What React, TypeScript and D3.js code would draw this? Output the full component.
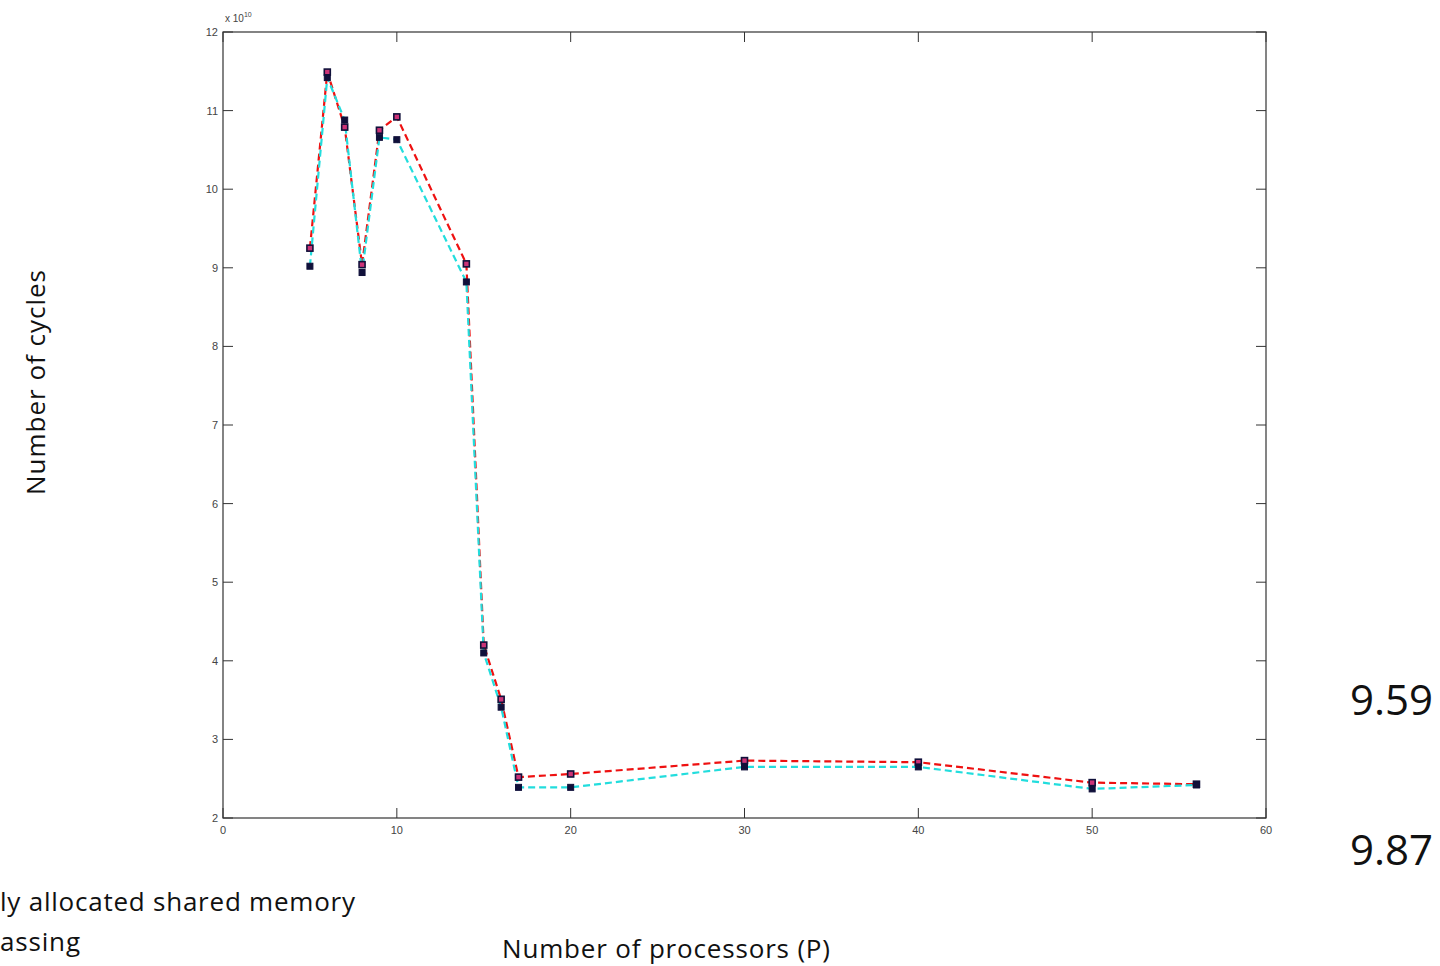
import React, { useEffect, useRef } from 'react';
import * as d3 from 'd3';

const procs = [5, 6, 7, 8, 9, 10, 14, 15, 16, 17, 20, 30, 40, 50, 56];
const sharedCycles = [9.25, 11.49, 10.79, 9.04, 10.75, 10.92, 9.05, 4.2, 3.51, 2.52, 2.56, 2.73, 2.71, 2.45, 2.43];
const passingCycles = [9.02, 11.42, 10.88, 8.94, 10.66, 10.63, 8.82, 4.1, 3.41, 2.39, 2.39, 2.65, 2.65, 2.37, 2.42];
const xTicks = [0, 10, 20, 30, 40, 50, 60];
const yTicks = [2, 3, 4, 5, 6, 7, 8, 9, 10, 11, 12];

const W = 1440;
const H = 966;
const margin = { left: 223, right: 174, top: 32, bottom: 148 };

export default function App() {
  const ref = useRef<SVGSVGElement>(null);

  useEffect(() => {
    const svg = d3.select(ref.current);
    svg.selectAll('*').remove();
    const iw = W - margin.left - margin.right;
    const ih = H - margin.top - margin.bottom;

    const x = d3.scaleLinear().domain([0, 60]).range([0, iw]);
    const y = d3.scaleLinear().domain([2, 12]).range([ih, 0]);

    const g = svg.append('g').attr('transform', 'translate(' + margin.left + ',' + margin.top + ')');

    // frame box
    g.append('rect')
      .attr('width', iw).attr('height', ih)
      .attr('fill', 'none').attr('stroke', '#333').attr('stroke-width', 1.2);

    // ticks inside on all sides
    const tl = 10;
    xTicks.forEach(t => {
      g.append('line').attr('x1', x(t)).attr('x2', x(t)).attr('y1', ih).attr('y2', ih - tl).attr('stroke', '#333');
      g.append('line').attr('x1', x(t)).attr('x2', x(t)).attr('y1', 0).attr('y2', tl).attr('stroke', '#333');
      g.append('text').attr('x', x(t)).attr('y', ih + 16)
        .attr('text-anchor', 'middle').attr('font-size', 11).attr('fill', '#444')
        .attr('font-family', 'Liberation Sans, Arial, sans-serif').text(t);
    });
    yTicks.forEach(t => {
      g.append('line').attr('x1', 0).attr('x2', tl).attr('y1', y(t)).attr('y2', y(t)).attr('stroke', '#333');
      g.append('line').attr('x1', iw).attr('x2', iw - tl).attr('y1', y(t)).attr('y2', y(t)).attr('stroke', '#333');
      g.append('text').attr('x', -5).attr('y', y(t) + 4)
        .attr('text-anchor', 'end').attr('font-size', 11).attr('fill', '#444')
        .attr('font-family', 'Liberation Sans, Arial, sans-serif').text(t);
    });

    // exponent
    const ex = g.append('text').attr('x', 2).attr('y', -10)
      .attr('font-size', 10).attr('fill', '#444').attr('font-family', 'Liberation Sans, Arial, sans-serif');
    ex.append('tspan').text('x 10');
    ex.append('tspan').attr('dy', -5).attr('font-size', 7).text('10');

    const line = (vals: number[]) => d3.line<number>()
      .x((d, i) => x(procs[i]))
      .y(d => y(d))(vals);

    g.append('path').attr('d', line(sharedCycles)).attr('fill', 'none')
      .attr('stroke', '#ee1111').attr('stroke-width', 2.2).attr('stroke-dasharray', '7,4');
    g.append('path').attr('d', line(passingCycles)).attr('fill', 'none')
      .attr('stroke', '#22dddd').attr('stroke-width', 2.2).attr('stroke-dasharray', '7,4');

    g.selectAll('.m1').data(sharedCycles).enter().append('rect')
      .attr('x', (d, i) => x(procs[i]) - 3).attr('y', d => y(d) - 3)
      .attr('width', 6).attr('height', 6)
      .attr('fill', '#cc3377').attr('stroke', '#10103a').attr('stroke-width', 1.6);
    g.selectAll('.m2').data(passingCycles).enter().append('rect')
      .attr('x', (d, i) => x(procs[i]) - 3).attr('y', d => y(d) - 3)
      .attr('width', 6).attr('height', 6)
      .attr('fill', '#10103a').attr('stroke', '#10103a').attr('stroke-width', 1);

    const font = 'Open Sans, Noto Sans, sans-serif';
    svg.append('text').attr('x', 502).attr('y', 958)
      .attr('font-size', 26).attr('font-family', font).attr('fill', '#111')
      .attr('textLength', 328).attr('lengthAdjust', 'spacing').text('Number of processors (P)');
    svg.append('text').attr('transform', 'translate(45,495) rotate(-90)')
      .attr('font-size', 26).attr('font-family', font).attr('fill', '#111')
      .attr('textLength', 225).attr('lengthAdjust', 'spacing').text('Number of cycles');
    svg.append('text').attr('x', 0).attr('y', 911)
      .attr('font-size', 26).attr('font-family', font).attr('fill', '#111')
      .attr('textLength', 355).attr('lengthAdjust', 'spacing').text('ly allocated shared memory');
    svg.append('text').attr('x', 0).attr('y', 951)
      .attr('font-size', 26).attr('font-family', font).attr('fill', '#111')
      .attr('textLength', 80).attr('lengthAdjust', 'spacing').text('assing');
    svg.append('text').attr('x', 1350).attr('y', 715)
      .attr('font-size', 42).attr('font-family', font).attr('fill', '#111').text('9.59');
    svg.append('text').attr('x', 1350).attr('y', 865)
      .attr('font-size', 42).attr('font-family', font).attr('fill', '#111').text('9.87');
  }, []);

  return (
    <div style={{ position: 'absolute', left: 0, top: 0 }}>
      <svg ref={ref} width={W} height={H} style={{ display: 'block', background: '#fff' }} />
    </div>
  );
}
